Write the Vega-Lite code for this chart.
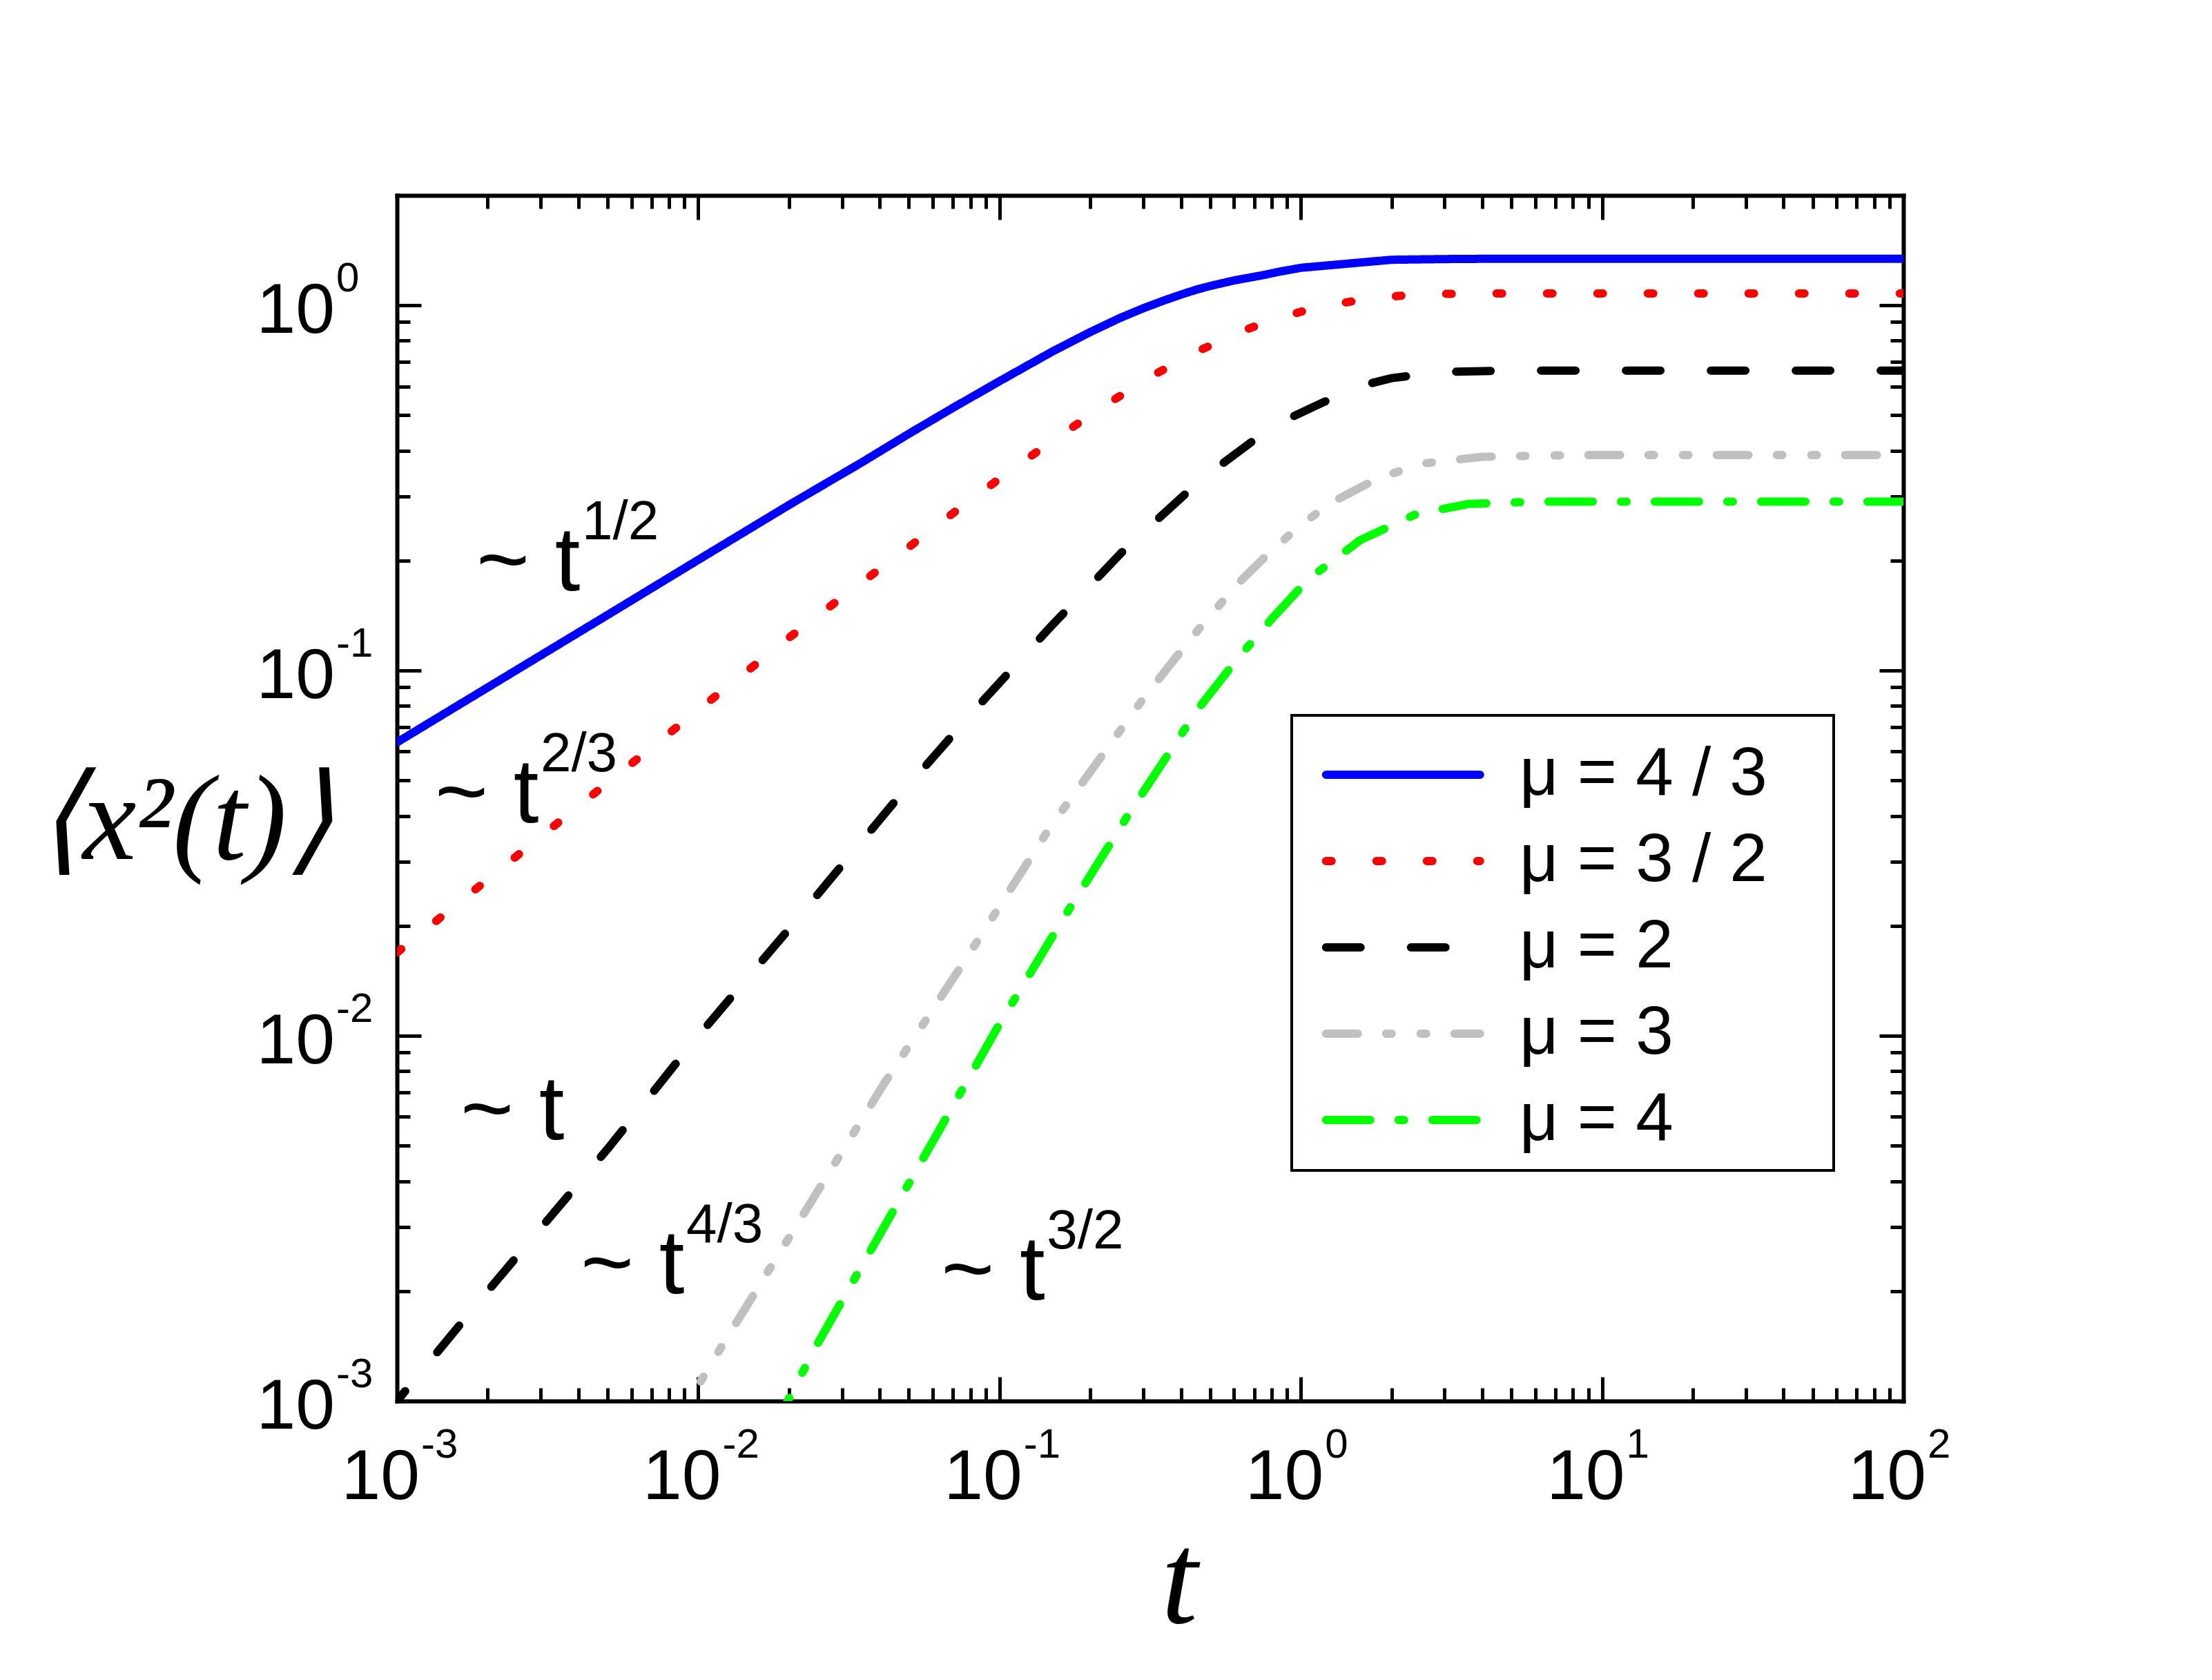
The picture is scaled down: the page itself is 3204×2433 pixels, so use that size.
{
  "$schema": "https://vega.github.io/schema/vega-lite/v6.json",
  "width": 2182,
  "height": 1746,
  "autosize": "none",
  "padding": {"left": 575, "top": 283, "right": 447, "bottom": 404},
  "background": "white",
  "datasets": {
    "curves": [
      {"mu": "μ = 4 / 3", "t": 0.001, "msd": 0.0636},
      {"mu": "μ = 4 / 3", "t": 0.002, "msd": 0.0899},
      {"mu": "μ = 4 / 3", "t": 0.005, "msd": 0.142},
      {"mu": "μ = 4 / 3", "t": 0.01, "msd": 0.201},
      {"mu": "μ = 4 / 3", "t": 0.02, "msd": 0.284},
      {"mu": "μ = 4 / 3", "t": 0.035, "msd": 0.372},
      {"mu": "μ = 4 / 3", "t": 0.05, "msd": 0.445},
      {"mu": "μ = 4 / 3", "t": 0.07, "msd": 0.524},
      {"mu": "μ = 4 / 3", "t": 0.1, "msd": 0.62},
      {"mu": "μ = 4 / 3", "t": 0.15, "msd": 0.748},
      {"mu": "μ = 4 / 3", "t": 0.2, "msd": 0.845},
      {"mu": "μ = 4 / 3", "t": 0.25, "msd": 0.922},
      {"mu": "μ = 4 / 3", "t": 0.3, "msd": 0.982},
      {"mu": "μ = 4 / 3", "t": 0.35, "msd": 1.03},
      {"mu": "μ = 4 / 3", "t": 0.4, "msd": 1.07},
      {"mu": "μ = 4 / 3", "t": 0.45, "msd": 1.104},
      {"mu": "μ = 4 / 3", "t": 0.5, "msd": 1.13},
      {"mu": "μ = 4 / 3", "t": 0.6, "msd": 1.17},
      {"mu": "μ = 4 / 3", "t": 0.75, "msd": 1.21},
      {"mu": "μ = 4 / 3", "t": 0.85, "msd": 1.237},
      {"mu": "μ = 4 / 3", "t": 1, "msd": 1.267},
      {"mu": "μ = 4 / 3", "t": 2, "msd": 1.333},
      {"mu": "μ = 4 / 3", "t": 3, "msd": 1.339},
      {"mu": "μ = 4 / 3", "t": 4, "msd": 1.341},
      {"mu": "μ = 4 / 3", "t": 100, "msd": 1.341},
      {"mu": "μ = 3 / 2", "t": 0.001, "msd": 0.0169},
      {"mu": "μ = 3 / 2", "t": 0.002, "msd": 0.0268},
      {"mu": "μ = 3 / 2", "t": 0.005, "msd": 0.0493},
      {"mu": "μ = 3 / 2", "t": 0.01, "msd": 0.078},
      {"mu": "μ = 3 / 2", "t": 0.02, "msd": 0.123},
      {"mu": "μ = 3 / 2", "t": 0.0322, "msd": 0.166},
      {"mu": "μ = 3 / 2", "t": 0.0479, "msd": 0.212},
      {"mu": "μ = 3 / 2", "t": 0.0706, "msd": 0.271},
      {"mu": "μ = 3 / 2", "t": 0.1037, "msd": 0.343},
      {"mu": "μ = 3 / 2", "t": 0.1524, "msd": 0.43},
      {"mu": "μ = 3 / 2", "t": 0.222, "msd": 0.53},
      {"mu": "μ = 3 / 2", "t": 0.327, "msd": 0.647},
      {"mu": "μ = 3 / 2", "t": 0.473, "msd": 0.76},
      {"mu": "μ = 3 / 2", "t": 0.66, "msd": 0.859},
      {"mu": "μ = 3 / 2", "t": 0.81, "msd": 0.914},
      {"mu": "μ = 3 / 2", "t": 1, "msd": 0.96},
      {"mu": "μ = 3 / 2", "t": 1.15, "msd": 0.991},
      {"mu": "μ = 3 / 2", "t": 1.69, "msd": 1.044},
      {"mu": "μ = 3 / 2", "t": 2.47, "msd": 1.073},
      {"mu": "μ = 3 / 2", "t": 4, "msd": 1.078},
      {"mu": "μ = 3 / 2", "t": 100, "msd": 1.078},
      {"mu": "μ = 2", "t": 0.0009, "msd": 0.0009},
      {"mu": "μ = 2", "t": 0.001, "msd": 0.001},
      {"mu": "μ = 2", "t": 0.002, "msd": 0.002},
      {"mu": "μ = 2", "t": 0.005, "msd": 0.0049},
      {"mu": "μ = 2", "t": 0.0094, "msd": 0.0094},
      {"mu": "μ = 2", "t": 0.02, "msd": 0.0196},
      {"mu": "μ = 2", "t": 0.0477, "msd": 0.0465},
      {"mu": "μ = 2", "t": 0.0838, "msd": 0.079},
      {"mu": "μ = 2", "t": 0.148, "msd": 0.132},
      {"mu": "μ = 2", "t": 0.262, "msd": 0.216},
      {"mu": "μ = 2", "t": 0.47, "msd": 0.335},
      {"mu": "μ = 2", "t": 0.81, "msd": 0.468},
      {"mu": "μ = 2", "t": 1.2, "msd": 0.545},
      {"mu": "μ = 2", "t": 1.57, "msd": 0.601},
      {"mu": "μ = 2", "t": 2, "msd": 0.632},
      {"mu": "μ = 2", "t": 2.94, "msd": 0.657},
      {"mu": "μ = 2", "t": 5, "msd": 0.663},
      {"mu": "μ = 2", "t": 100, "msd": 0.663},
      {"mu": "μ = 3", "t": 0.008, "msd": 0.00082},
      {"mu": "μ = 3", "t": 0.0093, "msd": 0.001},
      {"mu": "μ = 3", "t": 0.01233, "msd": 0.00147},
      {"mu": "μ = 3", "t": 0.02, "msd": 0.0028},
      {"mu": "μ = 3", "t": 0.0413, "msd": 0.00738},
      {"mu": "μ = 3", "t": 0.078, "msd": 0.0164},
      {"mu": "μ = 3", "t": 0.147, "msd": 0.0372},
      {"mu": "μ = 3", "t": 0.295, "msd": 0.0822},
      {"mu": "μ = 3", "t": 0.385, "msd": 0.1087},
      {"mu": "μ = 3", "t": 0.475, "msd": 0.1346},
      {"mu": "μ = 3", "t": 0.623, "msd": 0.174},
      {"mu": "μ = 3", "t": 0.78, "msd": 0.209},
      {"mu": "μ = 3", "t": 0.98, "msd": 0.247},
      {"mu": "μ = 3", "t": 1.25, "msd": 0.287},
      {"mu": "μ = 3", "t": 1.8, "msd": 0.336},
      {"mu": "μ = 3", "t": 2.54, "msd": 0.369},
      {"mu": "μ = 3", "t": 4, "msd": 0.385},
      {"mu": "μ = 3", "t": 8, "msd": 0.389},
      {"mu": "μ = 3", "t": 100, "msd": 0.389},
      {"mu": "μ = 4", "t": 0.017, "msd": 0.0008},
      {"mu": "μ = 4", "t": 0.0198, "msd": 0.001},
      {"mu": "μ = 4", "t": 0.0247, "msd": 0.00142},
      {"mu": "μ = 4", "t": 0.0627, "msd": 0.00547},
      {"mu": "μ = 4", "t": 0.0995, "msd": 0.0107},
      {"mu": "μ = 4", "t": 0.162, "msd": 0.0208},
      {"mu": "μ = 4", "t": 0.268, "msd": 0.0404},
      {"mu": "μ = 4", "t": 0.457, "msd": 0.0787},
      {"mu": "μ = 4", "t": 0.612, "msd": 0.107},
      {"mu": "μ = 4", "t": 0.807, "msd": 0.1395},
      {"mu": "μ = 4", "t": 1.06, "msd": 0.178},
      {"mu": "μ = 4", "t": 1.58, "msd": 0.228},
      {"mu": "μ = 4", "t": 2.41, "msd": 0.268},
      {"mu": "μ = 4", "t": 3.6, "msd": 0.286},
      {"mu": "μ = 4", "t": 6, "msd": 0.29},
      {"mu": "μ = 4", "t": 100, "msd": 0.29}
    ],
    "notes": [
      {"t": 0.001834, "y": 0.1657, "base": "~ t", "sup": "1/2"},
      {"t": 0.001336, "y": 0.0384, "base": "~ t", "sup": "2/3"},
      {"t": 0.001625, "y": 0.0052, "base": "~ t", "sup": ""},
      {"t": 0.00407, "y": 0.00197, "base": "~ t", "sup": "4/3"},
      {"t": 0.064, "y": 0.0019, "base": "~ t", "sup": "3/2"}
    ],
    "xticks": [
      {"t": 0.001, "base": "10", "sup": "-3"},
      {"t": 0.01, "base": "10", "sup": "-2"},
      {"t": 0.1, "base": "10", "sup": "-1"},
      {"t": 1, "base": "10", "sup": "0"},
      {"t": 10, "base": "10", "sup": "1"},
      {"t": 100, "base": "10", "sup": "2"}
    ],
    "yticks": [
      {"v": 0.001, "base": "10", "sup": "-3"},
      {"v": 0.01, "base": "10", "sup": "-2"},
      {"v": 0.1, "base": "10", "sup": "-1"},
      {"v": 1, "base": "10", "sup": "0"}
    ]
  },
  "layer": [
    {
      "data": {"name": "curves"},
      "mark": {"type": "line", "strokeWidth": 12, "strokeCap": "round", "strokeJoin": "round", "clip": true},
      "encoding": {
        "x": {
          "field": "t", "type": "quantitative",
          "scale": {"type": "log", "domain": [0.001, 100], "nice": false},
          "axis": {
            "orient": "bottom", "values": [0.001, 0.01, 0.1, 1, 10, 100],
            "labels": false, "tickSize": -35, "domain": true,
            "title": "t", "titleFont": "Liberation Serif", "titleFontStyle": "italic",
            "titleFontWeight": "normal", "titleFontSize": 190,
            "titleX": 1133, "titleY": 320, "titleAlign": "center", "titleBaseline": "alphabetic"
          }
        },
        "y": {
          "field": "msd", "type": "quantitative",
          "scale": {"type": "log", "domain": [0.001, 2], "nice": false},
          "axis": {
            "orient": "left", "values": [0.001, 0.01, 0.1, 1],
            "labels": false, "tickSize": -35, "domain": true,
            "title": "⟨x²(t)⟩", "titleFont": "Liberation Serif", "titleFontStyle": "italic",
            "titleFontWeight": "normal", "titleFontSize": 175, "titleAngle": 0,
            "titleX": -308, "titleY": 907, "titleAlign": "center", "titleBaseline": "middle"
          }
        },
        "color": {
          "field": "mu", "type": "nominal",
          "scale": {
            "domain": ["μ = 4 / 3", "μ = 3 / 2", "μ = 2", "μ = 3", "μ = 4"],
            "range": ["#0000ff", "#ff0000", "#000000", "#c0c0c0", "#00ff00"]
          },
          "legend": {
            "title": null, "orient": "none", "legendX": 1296, "legendY": 753,
            "padding": 24, "rowPadding": 14, "fillColor": "white",
            "strokeColor": "black",
            "symbolType": "M-0.65,0H3.35", "symbolSize": 12432, "symbolStrokeWidth": 12,
            "labelFont": "Liberation Sans", "labelFontSize": 98, "labelColor": "black",
            "labelOffset": 182, "labelLimit": 2000,
            "labelExpr": "datum.label + '\u2800'",
            "encode": {"symbols": {"update": {"strokeCap": {"value": "round"}}}}
          }
        },
        "strokeDash": {
          "field": "mu", "type": "nominal",
          "scale": {
            "domain": ["μ = 4 / 3", "μ = 3 / 2", "μ = 2", "μ = 3", "μ = 4"],
            "range": [[1, 0], [8, 65], [50, 73], [46, 41, 8, 42, 8, 41], [64, 41, 8, 41]]
          }
        }
      }
    },
    {
      "data": {"name": "notes"},
      "mark": {"type": "text", "align": "left", "baseline": "alphabetic", "fontSize": 132, "font": "Liberation Sans", "color": "black"},
      "encoding": {
        "x": {
          "field": "t", "type": "quantitative",
          "scale": {"type": "log", "domain": [0.001, 100], "nice": false},
          "axis": {
            "orient": "bottom",
            "values": [0.002, 0.003, 0.004, 0.005, 0.006, 0.007, 0.008, 0.009, 0.02, 0.03, 0.04, 0.05, 0.06, 0.07, 0.08, 0.09, 0.2, 0.3, 0.4, 0.5, 0.6, 0.7, 0.8, 0.9, 2, 3, 4, 5, 6, 7, 8, 9, 20, 30, 40, 50, 60, 70, 80, 90],
            "labels": false, "tickSize": -19, "domain": false, "title": null
          }
        },
        "y": {
          "field": "y", "type": "quantitative",
          "scale": {"type": "log", "domain": [0.001, 2], "nice": false},
          "axis": {
            "orient": "left",
            "values": [0.002, 0.003, 0.004, 0.005, 0.006, 0.007, 0.008, 0.009, 0.02, 0.03, 0.04, 0.05, 0.06, 0.07, 0.08, 0.09, 0.2, 0.3, 0.4, 0.5, 0.6, 0.7, 0.8, 0.9],
            "labels": false, "tickSize": -19, "domain": false, "title": null
          }
        },
        "text": {"field": "base"}
      }
    },
    {
      "data": {"name": "notes"},
      "mark": {"type": "text", "align": "left", "baseline": "alphabetic", "fontSize": 80, "font": "Liberation Sans", "color": "black", "dx": 153, "dy": -74},
      "encoding": {
        "x": {
          "field": "t", "type": "quantitative",
          "scale": {"type": "log", "domain": [0.001, 100], "nice": false},
          "axis": {
            "orient": "top", "values": [0.001, 0.01, 0.1, 1, 10, 100],
            "labels": false, "tickSize": -35, "domain": true, "title": null
          }
        },
        "y": {
          "field": "y", "type": "quantitative",
          "scale": {"type": "log", "domain": [0.001, 2], "nice": false},
          "axis": {
            "orient": "right", "values": [0.001, 0.01, 0.1, 1],
            "labels": false, "tickSize": -35, "domain": true, "title": null
          }
        },
        "text": {"field": "sup"}
      }
    },
    {
      "data": {"name": "xticks"},
      "mark": {"type": "text", "align": "right", "baseline": "alphabetic", "fontSize": 102, "font": "Liberation Sans", "color": "black", "dx": 33, "dy": 142},
      "encoding": {
        "x": {
          "field": "t", "type": "quantitative",
          "scale": {"type": "log", "domain": [0.001, 100], "nice": false},
          "axis": {
            "orient": "top",
            "values": [0.002, 0.003, 0.004, 0.005, 0.006, 0.007, 0.008, 0.009, 0.02, 0.03, 0.04, 0.05, 0.06, 0.07, 0.08, 0.09, 0.2, 0.3, 0.4, 0.5, 0.6, 0.7, 0.8, 0.9, 2, 3, 4, 5, 6, 7, 8, 9, 20, 30, 40, 50, 60, 70, 80, 90],
            "labels": false, "tickSize": -19, "domain": false, "title": null
          }
        },
        "y": {
          "datum": 0.001, "type": "quantitative",
          "scale": {"type": "log", "domain": [0.001, 2], "nice": false},
          "axis": {
            "orient": "right",
            "values": [0.002, 0.003, 0.004, 0.005, 0.006, 0.007, 0.008, 0.009, 0.02, 0.03, 0.04, 0.05, 0.06, 0.07, 0.08, 0.09, 0.2, 0.3, 0.4, 0.5, 0.6, 0.7, 0.8, 0.9],
            "labels": false, "tickSize": -19, "domain": false, "title": null
          }
        },
        "text": {"field": "base"}
      }
    },
    {
      "data": {"name": "xticks"},
      "mark": {"type": "text", "align": "left", "baseline": "alphabetic", "fontSize": 60, "font": "Liberation Sans", "color": "black", "dx": 35, "dy": 82},
      "encoding": {
        "x": {"field": "t", "type": "quantitative", "scale": {"type": "log", "domain": [0.001, 100], "nice": false}, "axis": null},
        "y": {"datum": 0.001, "type": "quantitative", "scale": {"type": "log", "domain": [0.001, 2], "nice": false}, "axis": null},
        "text": {"field": "sup"}
      }
    },
    {
      "data": {"name": "yticks"},
      "mark": {"type": "text", "align": "right", "baseline": "alphabetic", "fontSize": 102, "font": "Liberation Sans", "color": "black", "dx": -90, "dy": 40},
      "encoding": {
        "x": {"datum": 0.001, "type": "quantitative", "scale": {"type": "log", "domain": [0.001, 100], "nice": false}, "axis": null},
        "y": {"field": "v", "type": "quantitative", "scale": {"type": "log", "domain": [0.001, 2], "nice": false}, "axis": null},
        "text": {"field": "base"}
      }
    },
    {
      "data": {"name": "yticks"},
      "mark": {"type": "text", "align": "left", "baseline": "alphabetic", "fontSize": 60, "font": "Liberation Sans", "color": "black", "dx": -88, "dy": -20},
      "encoding": {
        "x": {"datum": 0.001, "type": "quantitative", "scale": {"type": "log", "domain": [0.001, 100], "nice": false}, "axis": null},
        "y": {"field": "v", "type": "quantitative", "scale": {"type": "log", "domain": [0.001, 2], "nice": false}, "axis": null},
        "text": {"field": "sup"}
      }
    }
  ],
  "resolve": {"axis": {"x": "independent", "y": "independent"}},
  "config": {
    "view": {"stroke": null},
    "font": "Liberation Sans",
    "legend": {"strokeWidth": 4},
    "axis": {
      "grid": false,
      "domainColor": "black", "domainWidth": 6, "domainCap": "square",
      "tickColor": "black", "tickWidth": 5,
      "titleColor": "black"
    }
  }
}
